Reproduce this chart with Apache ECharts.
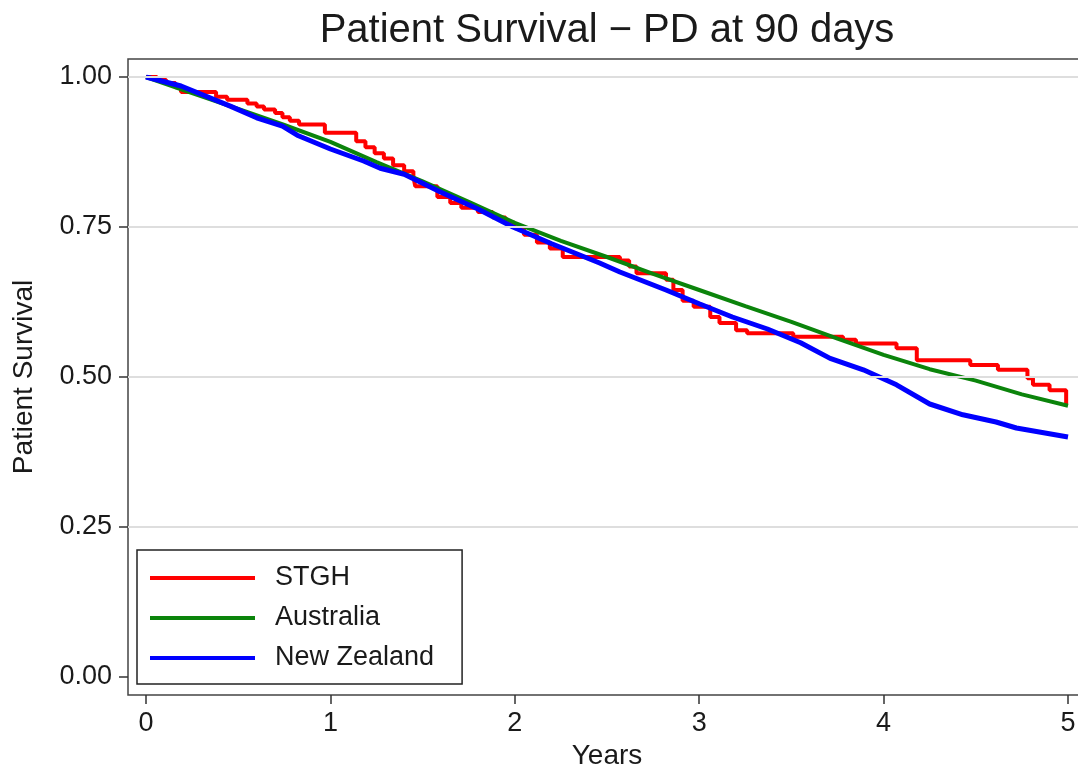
<!DOCTYPE html>
<html>
<head>
<meta charset="utf-8">
<script src="https://cdn.jsdelivr.net/npm/echarts@6/dist/echarts.min.js"></script>
<style>
html,body{margin:0;padding:0;background:#fff}
#main{width:1078px;height:768px}
</style>
</head>
<body>
<div id="main"></div>
<script>
// ---- data ----
const titleText = 'Patient Survival \u2212 PD at 90 days';
const xAxisTitle = 'Years';
const yAxisTitle = 'Patient Survival';
const seriesNames = ['STGH', 'Australia', 'New Zealand'];
const seriesColors = ['#ff0000', '#0b840b', '#0000ff'];
const seriesWidths = [4, 4, 5];

// STGH: Kaplan-Meier steps (time of step, survival after step)
const stghYears = [0, 0.06, 0.11, 0.16, 0.19, 0.38, 0.44, 0.55, 0.60, 0.64, 0.70, 0.74, 0.78, 0.83, 0.97,
  1.14, 1.19, 1.24, 1.29, 1.34, 1.40, 1.45, 1.46, 1.58, 1.65, 1.71, 1.80, 1.88, 1.95,
  2.00, 2.05, 2.12, 2.19, 2.26, 2.57, 2.62, 2.66, 2.82, 2.86, 2.91, 2.97,
  3.06, 3.11, 3.20, 3.26, 3.51, 3.78, 3.85, 4.07, 4.18, 4.47, 4.62, 4.78, 4.81, 4.90, 4.99, 5.00];
const stghSurv = [1.000, 0.995, 0.990, 0.983, 0.975, 0.967, 0.962, 0.956, 0.951, 0.946, 0.940, 0.933, 0.927, 0.921, 0.907,
  0.893, 0.883, 0.873, 0.864, 0.853, 0.843, 0.834, 0.818, 0.800, 0.790, 0.782, 0.775, 0.766, 0.757,
  0.748, 0.737, 0.724, 0.714, 0.700, 0.694, 0.684, 0.673, 0.662, 0.645, 0.627, 0.617,
  0.600, 0.590, 0.578, 0.573, 0.567, 0.562, 0.556, 0.548, 0.528, 0.520, 0.512, 0.498, 0.487, 0.478, 0.456, 0.456];

// Australia
const ausYears = [0, 0.25, 0.5, 0.75, 1.0, 1.25, 1.5, 1.75, 2.0, 2.25, 2.5, 2.75, 3.0, 3.25, 3.5, 3.75, 4.0, 4.25, 4.5, 4.75, 5.0];
const ausSurv  = [1.000, 0.973, 0.947, 0.920, 0.892, 0.858, 0.826, 0.792, 0.757, 0.727, 0.700, 0.672, 0.645, 0.618, 0.592, 0.564, 0.537, 0.513, 0.494, 0.471, 0.452];

// New Zealand
const nzYears = [0, 0.19, 0.46, 0.60, 0.74, 0.82, 1.00, 1.18, 1.27, 1.40, 1.60, 1.80, 1.99, 2.20, 2.46, 2.57, 2.82, 3.00, 3.18, 3.37, 3.55, 3.71, 3.89, 4.07, 4.25, 4.43, 4.61, 4.72, 5.00];
const nzSurv  = [1.000, 0.985, 0.951, 0.932, 0.918, 0.903, 0.880, 0.860, 0.848, 0.838, 0.808, 0.780, 0.750, 0.722, 0.690, 0.675, 0.645, 0.622, 0.600, 0.580, 0.557, 0.531, 0.512, 0.487, 0.455, 0.437, 0.425, 0.415, 0.400];

const yGridValues = [0.25, 0.5, 0.75, 1.0];

// ---- chart ----
const FONT = "'Liberation Sans', Arial, sans-serif";
const TXT = '#1a1a1a';
const toPairs = (xs, ys) => xs.map((x, i) => [x, ys[i]]);
const seriesData = [toPairs(stghYears, stghSurv), toPairs(ausYears, ausSurv), toPairs(nzYears, nzSurv)];

const chart = echarts.init(document.getElementById('main'), null, {renderer: 'canvas'});

const option = {
  animation: false,
  backgroundColor: '#fff',
  title: {
    text: titleText, left: 607, top: 11, textAlign: 'center', padding: 0,
    textStyle: {fontFamily: FONT, fontSize: 40, fontWeight: 'normal', color: TXT}
  },
  legend: {
    orient: 'vertical', left: 137, top: 550,
    data: seriesNames,
    icon: 'rect',
    itemWidth: 105, itemHeight: 4, itemGap: 10,
    padding: [13, 28, 11, 13],
    borderColor: '#222', borderWidth: 1.5, backgroundColor: '#fff',
    textStyle: {fontFamily: FONT, fontSize: 27, color: TXT, lineHeight: 30, padding: [0, 0, 0, 15]},
    z: 10
  },
  grid: [
    {left: 128, top: 59, right: -2, bottom: 73, show: true, borderColor: '#444', borderWidth: 1.5,
     backgroundColor: 'transparent', containLabel: false, outerBoundsMode: 'none'},
    {left: 146, top: 77, right: 10, bottom: 91, containLabel: false, outerBoundsMode: 'none'}
  ],
  xAxis: [
    {gridIndex: 0, type: 'value', min: 0, max: 1, show: false},
    {
      gridIndex: 1, type: 'value', min: 0, max: 5, interval: 1, offset: 18,
      name: xAxisTitle, nameLocation: 'middle', nameGap: 44,
      nameTextStyle: {fontFamily: FONT, fontSize: 28, color: TXT},
      axisLine: {show: false, onZero: false},
      axisTick: {show: true, length: 9, lineStyle: {color: '#333', width: 1.5}},
      axisLabel: {margin: 15, fontFamily: FONT, fontSize: 27, color: TXT},
      splitLine: {show: false}
    }
  ],
  yAxis: [
    {gridIndex: 0, type: 'value', min: -0.03, max: 1.03, show: false},
    {
      gridIndex: 1, type: 'value', min: 0, max: 1, interval: 0.25, offset: 18,
      name: yAxisTitle, nameLocation: 'middle', nameRotate: 90, nameGap: 90,
      nameTextStyle: {fontFamily: FONT, fontSize: 28, color: TXT},
      axisLine: {show: false, onZero: false},
      axisTick: {show: true, length: 9, lineStyle: {color: '#333', width: 1.5}},
      axisLabel: {margin: 16, fontFamily: FONT, fontSize: 27, color: TXT, formatter: v => v.toFixed(2)},
      splitLine: {show: false}
    }
  ],
  series: [
    {
      type: 'line', xAxisIndex: 0, yAxisIndex: 0, data: [], silent: true, z: 1,
      markLine: {
        silent: true, symbol: 'none', label: {show: false}, animation: false,
        lineStyle: {color: '#dedede', width: 2, type: 'solid'},
        data: yGridValues.map(v => ({yAxis: v}))
      }
    }
  ].concat(seriesNames.map((n, i) => ({
    name: n, type: 'line', xAxisIndex: 1, yAxisIndex: 1,
    step: i === 0 ? 'end' : false,
    data: seriesData[i], symbol: 'none', showSymbol: false, z: 2 + i,
    lineStyle: {color: seriesColors[i], width: seriesWidths[i]},
    itemStyle: {color: seriesColors[i]}
  })))
};
chart.setOption(option);
</script>
</body>
</html>
